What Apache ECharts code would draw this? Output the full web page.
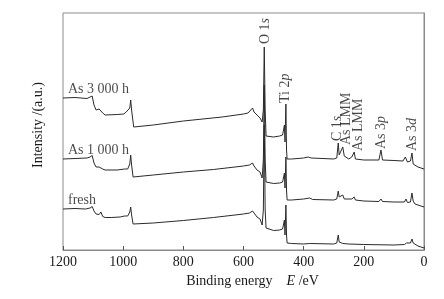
<!DOCTYPE html>
<html lang="en">
<head>
	<meta charset="UTF-8">
	<title>xps-survey</title>
	<script src="https://cdn.jsdelivr.net/npm/echarts@6.0.0/dist/echarts.min.js"></script>
	<style>
		html, body { margin: 0; padding: 0; background: #fff; }
	</style>
</head>
<body>
	<div id="container" style="width:444px;height:299px;"></div>

	<script>
		// binding energy (eV), intensity (a.u.)
		var freshData = [
			[1200, 41], [1160, 41.5], [1125, 41], [1110, 42], [1103, 43.5], [1097, 39], [1090, 36],
			[1080, 35.5], [1074, 38], [1068, 33.5], [1060, 32.5], [1040, 32.5], [1010, 33], [995, 34],
			[990, 36], [985, 34], [978, 38], [975, 43], [972, 35], [967, 26], [964, 25], [900, 27],
			[800, 29.5], [700, 32.5], [600, 36], [580, 37], [570, 39], [565, 37], [555, 33], [545, 31],
			[538, 25], [534, 40], [531, 125], [528, 40], [525, 22], [520, 20], [500, 19.5], [480, 20],
			[470, 21], [466, 23], [464, 30], [462, 15], [459, 45], [457, 15], [455, 7], [440, 6.5],
			[400, 6], [380, 6.5], [300, 6], [290, 7], [285, 15], [282, 8], [270, 6.5], [250, 6],
			[200, 5.5], [100, 5], [65, 5.5], [58, 7], [52, 6], [45, 7], [40, 11], [36, 7], [30, 5],
			[20, 4], [10, 3], [0, 2]
		];
		var h1000Data = [
			[1200, 91], [1160, 91.5], [1120, 92], [1110, 93], [1103, 94.5], [1097, 87], [1090, 83],
			[1080, 83], [1074, 85], [1068, 81], [1060, 80], [1020, 80], [995, 81], [990, 83], [985, 81],
			[978, 86], [975, 95], [972, 85], [967, 73], [964, 72], [900, 75], [800, 78], [700, 80.5],
			[600, 84], [580, 85], [570, 87], [565, 84], [555, 80], [545, 78], [538, 72], [534, 90],
			[531, 165], [528, 90], [525, 68], [520, 67], [500, 66.5], [480, 67], [470, 68], [466, 70],
			[464, 77], [462, 62], [459, 93], [457, 60], [455, 50], [440, 50], [400, 51], [380, 52],
			[370, 50.5], [300, 50], [290, 51], [285, 59], [282, 53], [276, 52], [270, 55], [265, 51],
			[240, 51], [232, 53], [228, 50], [200, 49], [150, 48.5], [143, 51], [138, 48.5], [100, 48],
			[65, 48], [60, 51], [55, 47.5], [45, 48], [40, 57], [36, 49], [30, 46], [20, 45], [10, 44],
			[0, 43]
		];
		var h3000Data = [
			[1200, 152], [1160, 152.5], [1120, 151.5], [1110, 153], [1103, 154], [1097, 145], [1090, 140],
			[1080, 141], [1074, 143], [1068, 137], [1060, 135], [1020, 135.5], [998, 136], [990, 138],
			[985, 136], [978, 142], [975, 150], [972, 140], [965, 123], [960, 122], [900, 125],
			[800, 129], [671, 133], [600, 136], [585, 137], [570, 142], [565, 138], [555, 135],
			[545, 132], [538, 128], [534, 140], [531, 203], [528, 140], [525, 114], [520, 113.5],
			[500, 113], [480, 114], [470, 115], [466, 117], [464, 125], [462, 108], [459, 146],
			[457, 100], [455, 91], [440, 91], [400, 92], [385, 93], [375, 92], [300, 91], [290, 92],
			[285, 107], [282, 95], [276, 93], [270, 103], [265, 94], [250, 91], [240, 93], [232, 98],
			[228, 91], [200, 90], [150, 90], [143, 100], [138, 90], [100, 89.5], [70, 89], [62, 93],
			[55, 88], [45, 89], [40, 97], [36, 86], [30, 84], [20, 83], [10, 82], [0, 81]
		];
		var seriesNames = ['fresh', 'As 1 000 h', 'As 3 000 h'];
		// peak assignments: text, energy, label base
		var peakNames = ['O 1{i|s}', 'Ti 2{i|p}', 'C 1{i|s}', 'As LMM', 'As LMM', 'As 3{i|p}', 'As 3{i|d}'];
		var peakEnergy = [529, 462, 288, 258, 218, 143, 40];
		var peakLabelAt = [205, 146, 108, 104, 98, 100, 98];
		var xTicks = [0, 200, 400, 600, 800, 1000, 1200];

		var serif = '"Liberation Serif", "Times New Roman", serif';
		var txt = '#1a1a1a';
		var richItalic = { i: { fontStyle: 'italic', fontFamily: serif, fontSize: 14, color: txt } };

		var dom = document.getElementById('container');
		var myChart = echarts.init(dom, null, { renderer: 'canvas' });

		var curves = [freshData, h1000Data, h3000Data];
		var labelItems = [];
		for (var i = 0; i < curves.length; i++) {
			labelItems.push({
				name: seriesNames[i],
				value: curves[i][0],
				label: {
					position: [5, -9],
					rotate: 0,
					align: 'left',
					verticalAlign: 'middle'
				}
			});
		}
		for (var k = 0; k < peakNames.length; k++) {
			labelItems.push({
				name: peakNames[k],
				value: [peakEnergy[k], peakLabelAt[k]]
			});
		}

		var lineSeries = curves.map(function (d, idx) {
			return {
				name: seriesNames[idx],
				type: 'line',
				data: d,
				symbol: 'none',
				silent: true,
				lineStyle: { color: '#2a2a2a', width: 1 }
			};
		});

		var option = {
			animation: false,
			grid: {
				left: 63, right: 20, top: 13, bottom: 49,
				show: true, borderColor: '#8a8a8a', borderWidth: 1
			},
			xAxis: {
				type: 'value',
				inverse: true,
				min: xTicks[0],
				max: xTicks[xTicks.length - 1],
				interval: 200,
				name: 'Binding energy    {i|E} /eV',
				nameLocation: 'middle',
				nameGap: 24,
				nameTextStyle: {
					fontFamily: serif, fontSize: 14, color: txt,
					padding: [0, 0, 0, 18],
					rich: richItalic
				},
				axisLine: { lineStyle: { color: '#8a8a8a', width: 1 } },
				axisTick: { inside: true, length: 4, lineStyle: { color: '#555' } },
				axisLabel: {
					fontFamily: serif, fontSize: 14, color: txt, margin: 5,
					formatter: function (v) { return String(v); }
				},
				splitLine: { show: false }
			},
			yAxis: {
				type: 'value',
				min: 0,
				max: 237,
				name: 'Intensity /(a.u.)',
				nameLocation: 'middle',
				nameGap: 18,
				nameTextStyle: {
					fontFamily: serif, fontSize: 14, color: txt,
					padding: [0, 0, 0, 13]
				},
				axisLine: { show: true, lineStyle: { color: '#8a8a8a', width: 1 } },
				axisTick: { show: false },
				axisLabel: { show: false },
				splitLine: { show: false }
			},
			series: lineSeries.concat([{
				type: 'scatter',
				silent: true,
				symbolSize: 0,
				data: labelItems,
				label: {
					show: true,
					formatter: '{b}',
					position: [0, -1],
					rotate: 90,
					align: 'left',
					verticalAlign: 'middle',
					fontFamily: serif,
					fontSize: 14,
					color: txt,
					rich: richItalic
				}
			}])
		};

		myChart.setOption(option);
	</script>
</body>
</html>
